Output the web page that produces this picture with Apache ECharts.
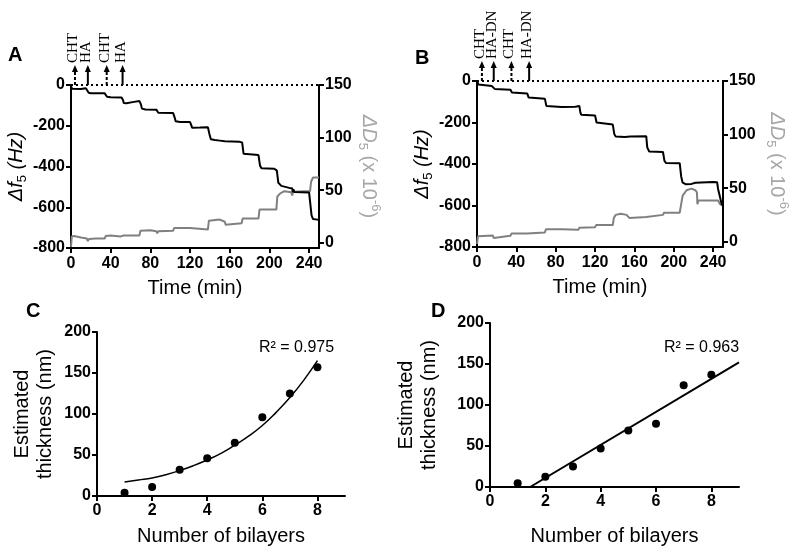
<!DOCTYPE html>
<html><head><meta charset="utf-8">
<script src="https://cdn.jsdelivr.net/npm/echarts@6/dist/echarts.min.js"></script>
<style>html,body{margin:0;padding:0;background:#fff}#c{width:800px;height:555px}</style>
</head><body><div id="c"></div>
<script>
// ---------- Panel A: Δf5 (black) and ΔD5 (gray) vs time ----------
const aFreqT = [0,1,3,10,15,17,17.8,20,34,35.5,36.3,40,51,52.5,53.2,56,62,69,70.5,71.5,75,86,87.5,88,103,104.5,105.5,110,120,121.5,122,130,138,139.5,141,145,150,155,156.5,170,172.5,174,176,189,190.5,192,205,207.5,209,212,220,223,223.5,224.2,225,240,241.5,242.5,244,250];
const aFreqV = [-5,-18,-21,-20,-16,-17,-38,-40,-41,-44,-58,-60,-61,-75,-88,-90,-84,-79,-95,-116,-120,-121,-130,-136,-138,-160,-178,-182,-182,-200,-210,-209,-207,-240,-266,-270,-273,-276,-280,-279,-282,-338,-343,-344,-395,-409,-411,-420,-480,-495,-505,-507,-526,-512,-525,-527,-528,-640,-658,-662];
const aDissT = [0,0.8,3,10,16,17,18,25,34,35,40,50,52,53,69,70,80,86,87,88,103,104,120,121,138,139,141,150,155,156,157,172,173,189,190,207,208,211,215,222,223,224,235,241,242,244,250];
const aDissV = [-4,6,6.5,5,4,1.5,3.5,4,4,6.5,6.8,6,5.5,7,7,11.5,11.8,11,9,11,11.5,14,14,14.5,12.5,21,22.5,22,20,17,18.5,18.5,23,23,31.5,31.5,44,47,49,48,45,48.5,49,49,58,62,62];
const aArrowT = [4,17,36,52];
const aArrowLabels = ['CHT','HA','CHT','HA'];

// ---------- Panel B ----------
const bFreqT = [0,1.5,3,15,17,18,20,34,35.5,37,51,52.5,54,69,70.5,72,86,87,100,104,105,106,120,121.5,123,138,139.5,141,150,156,172,173,175,189,190.5,192,206,207.5,209,212,218,222,240,244,245,247,249];
const bFreqV = [0,-17,-22,-24,-26,-38,-40,-42,-55,-57,-60,-80,-85,-86,-120,-124,-125,-127,-124,-120,-150,-163,-166,-200,-208,-210,-255,-268,-270,-267,-266,-320,-340,-342,-385,-395,-396,-460,-490,-497,-496,-490,-487,-488,-520,-560,-600];
const bDissT = [0,1,3,16,17,18,34,35,51,52,53,69,70,86,87,103,104,120,121,138,139,141,146,152,155,156,172,173,189,190,206,207.5,209,213,218,222,223.5,224,225,245,247,249];
const bDissV = [-2,5,6,5.8,3.5,5,5.5,7.5,7.5,7,8,8.5,11.5,11.5,10.5,11,13,13.5,15.5,15.5,22,25,26,25,22,23,23,24,25,27,27,35,43,48,49.5,48,46,35,38.5,38.5,35,34];
const bArrowT = [5,17,35,53];
const bArrowLabels = ['CHT','HA-DN','CHT','HA-DN'];

// ---------- Panel C ----------
const cBilayers = [1,2,3,4,5,6,7,8];
const cThick = [4,11,32,46,65,96,125,157];
const cFitX = [1,1.5,2,2.5,3,3.5,4,4.5,5,5.5,6,6.5,7,7.5,8];
const cFitY = [17,19.5,22,26,31,37,44,52,62,73,86,102,120,141,165];
const cR2 = 'R² = 0.975';

// ---------- Panel D ----------
const dBilayers = [1,2,3,4,5,6,7,8];
const dThick = [4.5,12.5,25,47,69,77,124,137];
const dFitX = [1.45,9];
const dFitY = [0,152];
const dR2 = 'R² = 0.963';

const timeTicks = [0,40,80,120,160,200,240];
const dissTicks = [0,50,100,150];
const bilayerTicks = [0,2,4,6,8];

const FONT = '"Liberation Sans", Arial, sans-serif';
const SERIF = '"Liberation Serif", "Times New Roman", serif';
const zip = (a, b) => a.map((v, i) => [v, b[i]]);

const tickLabel = { fontFamily: FONT, fontSize: 16, fontWeight: 'bold', color: '#000' };
const axisLineStyle = { show: true, onZero: false, lineStyle: { color: '#000', width: 2 } };
const axisTickStyle = { show: true, length: 5, lineStyle: { color: '#000', width: 2 } };

function timeAxis(gi) {
  return {
    gridIndex: gi, type: 'value', min: 0, max: 250,
    axisLine: axisLineStyle,
    axisTick: Object.assign({ customValues: timeTicks }, axisTickStyle),
    axisLabel: Object.assign({ customValues: timeTicks, margin: 8 }, tickLabel),
    splitLine: { show: false },
    name: 'Time (min)', nameLocation: 'middle', nameGap: 30,
    nameTextStyle: { fontFamily: FONT, fontSize: 20, color: '#000' }
  };
}
function bilayerAxis(gi, gap) {
  return {
    gridIndex: gi, type: 'value', min: 0, max: 9,
    axisLine: axisLineStyle,
    axisTick: Object.assign({ customValues: bilayerTicks }, axisTickStyle),
    axisLabel: Object.assign({ customValues: bilayerTicks, margin: 7 }, tickLabel),
    splitLine: { show: false },
    name: 'Number of bilayers', nameLocation: 'middle', nameGap: gap,
    nameTextStyle: { fontFamily: FONT, fontSize: 20, color: '#000' }
  };
}
const freqRich = {
  i: { fontFamily: FONT, fontSize: 20, fontStyle: 'italic', color: '#000', lineHeight: 26 },
  s: { fontFamily: FONT, fontSize: 13, color: '#000', lineHeight: 13, verticalAlign: 'bottom' }
};
const dissRich = {
  i: { fontFamily: FONT, fontSize: 20, fontStyle: 'italic', color: '#a6a6a6', lineHeight: 26 },
  n: { fontFamily: FONT, fontSize: 20, color: '#a6a6a6', lineHeight: 26 },
  s: { fontFamily: FONT, fontSize: 13, color: '#a6a6a6', lineHeight: 13, verticalAlign: 'bottom' },
  p: { fontFamily: FONT, fontSize: 13, color: '#a6a6a6', lineHeight: 13, verticalAlign: 'top' }
};
function freqAxis(gi) {
  return {
    gridIndex: gi, type: 'value', min: -800, max: 0, interval: 200, position: 'left',
    axisLine: axisLineStyle, axisTick: axisTickStyle,
    axisLabel: Object.assign({ margin: 6 }, tickLabel),
    splitLine: { show: false },
    name: '{i|Δf}{s|5}{i| (Hz)}', nameLocation: 'middle', nameGap: 42,
    nameTextStyle: { rich: freqRich }
  };
}
function dissAxis(gi, gap) {
  return {
    gridIndex: gi, type: 'value', min: -5, max: 150, position: 'right',
    axisLine: axisLineStyle,
    axisTick: Object.assign({ customValues: dissTicks }, axisTickStyle),
    axisLabel: Object.assign({ customValues: dissTicks, margin: 6 }, tickLabel),
    splitLine: { show: false },
    name: '{i|ΔD}{s|5}{n| (x 10}{p|-6}{n|)}', nameLocation: 'middle', nameGap: gap, nameRotate: -90,
    nameTextStyle: { rich: dissRich }
  };
}
function thickAxis(gi, gap) {
  return {
    gridIndex: gi, type: 'value', min: 0, max: 200, interval: 50,
    axisLine: axisLineStyle, axisTick: axisTickStyle,
    axisLabel: Object.assign({ margin: 6 }, tickLabel),
    splitLine: { show: false },
    name: 'Estimated\nthickness (nm)', nameLocation: 'middle', nameGap: gap,
    nameTextStyle: { fontFamily: FONT, fontSize: 20, color: '#000', lineHeight: 23 }
  };
}

const lineSeries = (xi, yi, data, color) => ({
  type: 'line', xAxisIndex: xi, yAxisIndex: yi, data: data, showSymbol: false, symbol: 'none',
  lineStyle: { color: color, width: 2 }, itemStyle: { color: color }, animation: false, silent: true
});
const dotted = {
  silent: true, symbol: ['none', 'none'], label: { show: false },
  lineStyle: { color: '#000', width: 2, type: [2, 3] }, data: [{ yAxis: 0 }]
};

const option = {
  animation: false,
  grid: [
    { left: 71, top: 85, width: 248, height: 163 },
    { left: 477, top: 81, width: 246, height: 166 },
    { left: 97, top: 332, width: 248, height: 164 },
    { left: 490, top: 323, width: 249, height: 164 }
  ],
  xAxis: [timeAxis(0), timeAxis(1), bilayerAxis(2, 30), bilayerAxis(3, 39)],
  yAxis: [freqAxis(0), dissAxis(0, 37), freqAxis(1), dissAxis(1, 41), thickAxis(2, 40), thickAxis(3, 49)],
  series: [
    lineSeries(0, 1, zip(aDissT, aDissV), '#808080'),
    Object.assign(lineSeries(0, 0, zip(aFreqT, aFreqV), '#000'), { markLine: dotted }),
    lineSeries(1, 3, zip(bDissT, bDissV), '#808080'),
    Object.assign(lineSeries(1, 2, zip(bFreqT, bFreqV), '#000'), { markLine: dotted }),
    { type: 'line', xAxisIndex: 2, yAxisIndex: 4, data: zip(cFitX, cFitY), smooth: true, showSymbol: false, symbol: 'none', lineStyle: { color: '#000', width: 1.5 }, silent: true },
    { type: 'scatter', xAxisIndex: 2, yAxisIndex: 4, data: zip(cBilayers, cThick), symbolSize: 8, itemStyle: { color: '#000', opacity: 1 }, silent: true },
    { type: 'line', xAxisIndex: 3, yAxisIndex: 5, data: zip(dFitX, dFitY), showSymbol: false, symbol: 'none', lineStyle: { color: '#000', width: 2 }, silent: true },
    { type: 'scatter', xAxisIndex: 3, yAxisIndex: 5, data: zip(dBilayers, dThick), symbolSize: 8, itemStyle: { color: '#000', opacity: 1 }, silent: true }
  ]
};

const chart = echarts.init(document.getElementById('c'));
chart.setOption(option);

// annotations computed through axis scales
const g = [];
function arrows(xi, yi, times, labels) {
  times.forEach((t, k) => {
    const p = chart.convertToPixel({ xAxisIndex: xi, yAxisIndex: yi }, [t, 0]);
    const x = p[0], y0 = p[1];
    const dashed = labels[k] === 'CHT';
    g.push({ type: 'line', shape: { x1: x, y1: y0, x2: x, y2: y0 - 14 },
      style: { stroke: '#000', lineWidth: 2, lineDash: dashed ? [3, 2] : null }, silent: true });
    g.push({ type: 'polygon', shape: { points: [[x - 3, y0 - 13], [x + 3, y0 - 13], [x, y0 - 20]] },
      style: { fill: '#000' }, silent: true });
    g.push({ type: 'text', x: x - 2, y: y0 - 22, rotation: Math.PI / 2,
      style: { text: labels[k], font: '15px ' + SERIF, fill: '#000', align: 'left', verticalAlign: 'middle' }, silent: true });
  });
}
arrows(0, 0, aArrowT, aArrowLabels);
arrows(1, 2, bArrowT, bArrowLabels);

const panel = (txt, x, y) => ({ type: 'text', x: x, y: y,
  style: { text: txt, font: 'bold 20px ' + FONT, fill: '#000', align: 'left', verticalAlign: 'top' }, silent: true });
g.push(panel('A', 8, 45), panel('B', 415, 48), panel('C', 26, 301), panel('D', 431, 301));

const r2 = (txt, x, y) => ({ type: 'text', x: x, y: y,
  style: { text: txt, font: '16px ' + FONT, fill: '#000', align: 'left', verticalAlign: 'middle' }, silent: true });
g.push(r2(cR2, 259, 348), r2(dR2, 664, 348));

chart.setOption({ graphic: g });
</script>
</body></html>
